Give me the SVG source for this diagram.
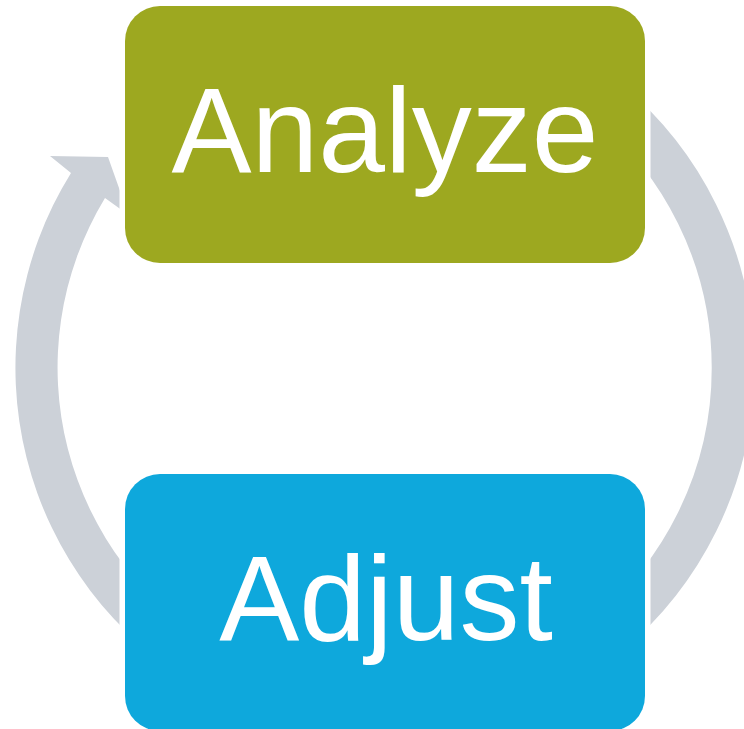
<svg xmlns="http://www.w3.org/2000/svg" width="744" height="729" viewBox="0 0 744 729">
  <style>
    .ring { fill: none; stroke: #CCD1D8; stroke-width: 42.6; }
    .arrow { fill: #CCD1D8; stroke: none; }
    .halo { fill: #FFFFFF; }
    .label { fill: #FFFFFF; font-family: "Liberation Sans", Arial, sans-serif; font-size: 120px; text-anchor: middle; }
  </style>
  <rect width="744" height="729" fill="#FFFFFF"/>
  <g id="connectors">
    <path class="arrow" d="M 200.35 687.8 A 369.3 369.3 0 0 1 71 173 L 50 156 L 108 157 L 128.6 215 L 105 198 A 326.7 326.7 0 0 0 221.65 650.9 Z"/>
    <path class="ring" d="M 608.7 101.4 A 348 348 0 0 1 608.7 634.6"/>
  </g>
  <g id="analyze">
    <rect class="halo" x="119.5" y="0.5" width="531" height="268" rx="40" ry="40"/>
    <rect x="125" y="6" width="520" height="257" rx="35" ry="35" fill="#9DA820"/>
    <text class="label" x="385" y="172">Analyze</text>
  </g>
  <g id="adjust">
    <rect class="halo" x="119.5" y="468.5" width="531" height="268" rx="40" ry="40"/>
    <rect x="125" y="474" width="520" height="257" rx="35" ry="35" fill="#0EA8DC"/>
    <text class="label" x="386" y="640">Adjust</text>
  </g>
</svg>
